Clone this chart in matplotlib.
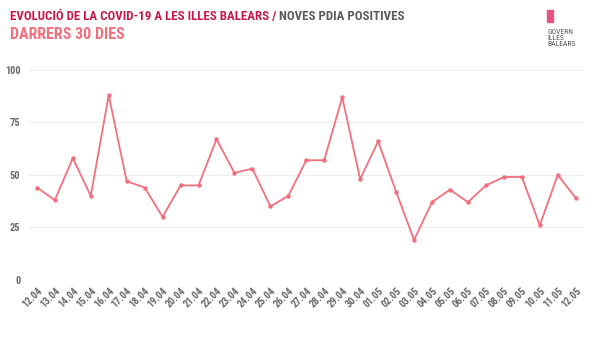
import matplotlib
matplotlib.use("Agg")
from matplotlib import pyplot as plt

dates = ["12.04", "13.04", "14.04", "15.04", "16.04", "17.04", "18.04", "19.04",
         "20.04", "21.04", "22.04", "23.04", "24.04", "25.04", "26.04", "27.04",
         "28.04", "29.04", "30.04", "01.05", "02.05", "03.05", "04.05", "05.05",
         "06.05", "07.05", "08.05", "09.05", "10.05", "11.05", "12.05"]
positives = [44, 38, 58, 40, 88, 47, 44, 30, 45, 45, 67, 51, 53, 35, 40, 57,
             57, 87, 48, 66, 42, 19, 37, 43, 37, 45, 49, 49, 26, 50, 39]
yticks = [0, 25, 50, 75, 100]

line_col = "#f2707e"
grey = "#6a6a6a"
cond = ["Roboto Condensed", "DejaVu Sans"]

fig = plt.figure(figsize=(6, 3.38), dpi=100)
ax = fig.add_axes([0.048, 0.172, 0.925, 0.621])

x = list(range(len(dates)))
ax.plot(x, positives, color=line_col, lw=1.3, marker="o", ms=2.2, zorder=3)

ax.set_xlim(-0.45, len(dates) - 0.55)
ax.set_ylim(0, 100)
ax.set_yticks(yticks)
ax.set_xticks(x)
ax.set_xticklabels(dates, rotation=45, ha="right", rotation_mode="anchor",
                   fontsize=7.3, color=grey, family=cond, fontweight="bold")
ax.set_yticklabels([str(v) for v in yticks], fontsize=7.5, color=grey,
                   fontweight="bold", family=cond)
ax.grid(axis="y", color="#eeeeee", lw=0.8)
ax.tick_params(length=0, pad=6)
ax.tick_params(axis="x", pad=4)
for s in ax.spines.values():
    s.set_visible(False)

# titles
t1 = fig.text(0.016, 0.94, "EVOLUCIÓ DE LA COVID-19 A LES ILLES BALEARS / ",
              color="#c8184a", fontsize=9.3, fontweight="bold", family=cond)
ax.annotate("NOVES PDIA POSITIVES", xy=(1, 0), xycoords=t1, va="bottom",
            color="#5a5a5a", fontsize=9.3, fontweight="bold", family=cond,
            annotation_clip=False)
fig.text(0.016, 0.885, "DARRERS 30 DIES", color="#f0707c", fontsize=11.5,
         fontweight="bold", family=cond)

# logo
fig.patches.append(plt.Rectangle((0.912, 0.935), 0.009, 0.036, color="#e35580",
                                 transform=fig.transFigure, figure=fig))
fig.text(0.913, 0.915, "GOVERN\nILLES\nBALEARS", color="#555555", fontsize=5.5,
         va="top", linespacing=1.0, family=cond)

fig.savefig("out.png", dpi=100)
